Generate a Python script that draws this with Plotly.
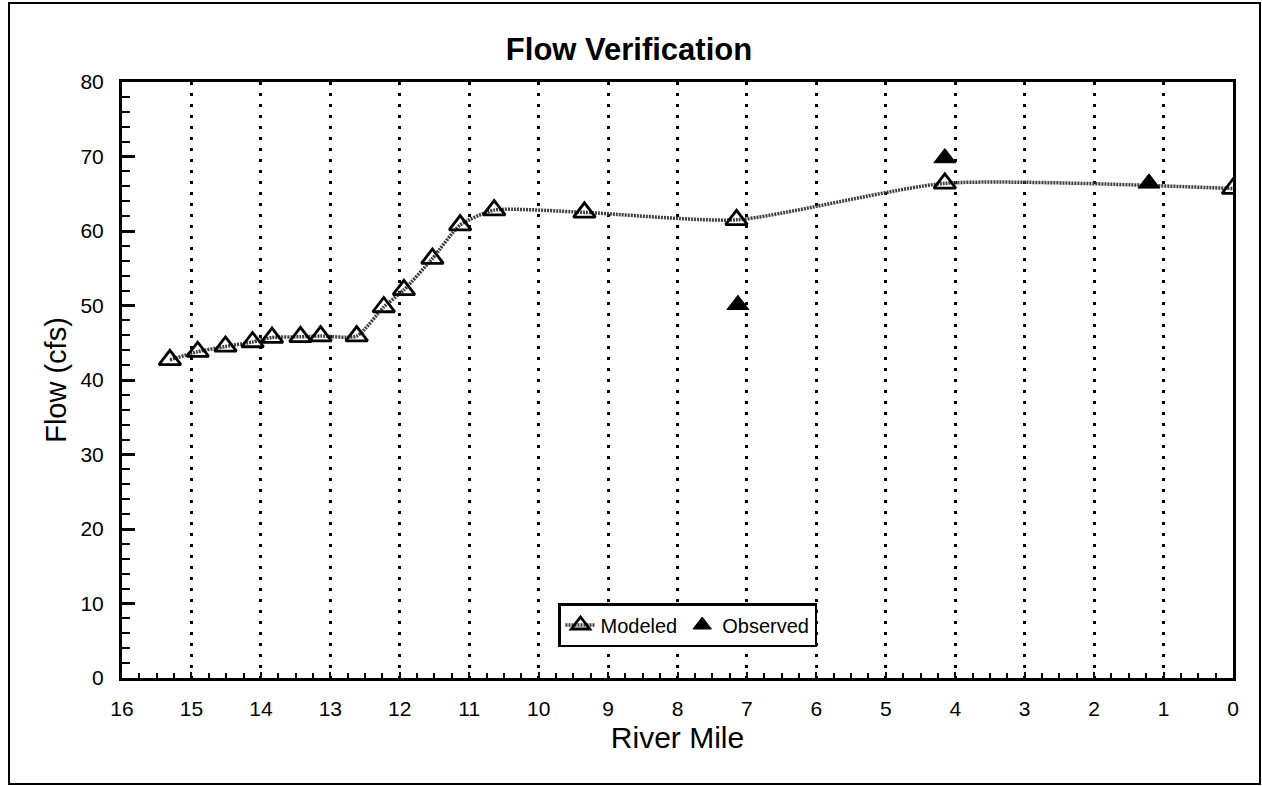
import plotly.graph_objects as go

# River mile / flow (cfs) series
modeled_mile = [15.31, 14.91, 14.51, 14.12, 13.84, 13.43, 13.14, 12.62, 12.23,
                11.94, 11.53, 11.13, 10.64, 9.34, 7.15, 4.15, 0.0]
modeled_flow = [42.7, 43.8, 44.5, 45.1, 45.7, 45.8, 45.9, 45.9, 49.8,
                52.1, 56.3, 60.8, 62.8, 62.5, 61.5, 66.4, 65.7]
observed_mile = [7.13, 4.15, 1.21]
observed_flow = [50.1, 69.8, 66.4]

x_ticks = list(range(16, -1, -1))
y_ticks = list(range(0, 81, 10))

FONT = "Liberation Sans, Arial, Helvetica, sans-serif"

fig = go.Figure()

fig.add_trace(go.Scatter(
    x=modeled_mile, y=modeled_flow, name="Modeled", mode="lines+markers",
    line=dict(color="#404040", width=3.5, dash="2px,1px", shape="spline", smoothing=0.6),
    marker=dict(symbol="triangle-up-open", size=19, color="black",
                line=dict(color="black", width=2.8)),
))
fig.add_trace(go.Scatter(
    x=observed_mile, y=observed_flow, name="Observed", mode="markers",
    marker=dict(symbol="triangle-up", size=19, color="black",
                line=dict(color="black", width=1)),
))

L, R, T, B = 122, 29, 82, 108
W, H = 1262, 786
pw, ph = W - L - R, H - T - B

fig.update_layout(
    width=W, height=H,
    margin=dict(l=L, r=R, t=T, b=B),
    paper_bgcolor="white", plot_bgcolor="white",
    font=dict(family=FONT, color="black", size=21),
    title=dict(text="<b>Flow Verification</b>", x=629 / W, xanchor="center",
               y=1 - 49 / H, yanchor="middle", font=dict(size=31, family=FONT)),
    showlegend=True,
    legend=dict(orientation="h", x=(558 - L) / pw, y=(678 - 603) / ph,
                xanchor="left", yanchor="top", bgcolor="white",
                bordercolor="black", borderwidth=2.5,
                font=dict(size=20, family=FONT), itemwidth=30,
                tracegroupgap=0),
    shapes=[dict(type="rect", xref="paper", yref="paper",
                 x0=(9 - L) / pw, x1=(1260 - L) / pw,
                 y0=(H - B - 784) / ph, y1=(H - B - 3) / ph,
                 line=dict(color="black", width=2), layer="below")],
)

fig.update_xaxes(
    range=[16, 0], tickvals=x_ticks, ticktext=[str(v) for v in x_ticks],
    showline=True, linecolor="black", linewidth=3, mirror=True,
    ticks="inside", ticklen=6, tickwidth=2, tickcolor="black",
    showgrid=True, gridcolor="black", gridwidth=3, griddash="3px,8px",
    zeroline=False, ticklabelstandoff=10,
    minor=dict(dtick=0.25, ticks="inside", ticklen=5, tickwidth=2,
               tickcolor="black", showgrid=False),
    title=dict(text="River Mile", font=dict(size=30, family=FONT), standoff=8),
    tickfont=dict(size=21),
)
fig.update_yaxes(
    range=[0, 80], tickvals=y_ticks, ticktext=[str(v) for v in y_ticks],
    showline=True, linecolor="black", linewidth=3, mirror=True,
    ticks="inside", ticklen=13, tickwidth=2.5, tickcolor="black",
    showgrid=False, zeroline=False, ticklabelstandoff=11,
    minor=dict(dtick=2, ticks="inside", ticklen=8, tickwidth=2,
               tickcolor="black", showgrid=False),
    title=dict(text="Flow (cfs)", font=dict(size=29, family=FONT), standoff=6),
    tickfont=dict(size=21),
)

fig.write_html("out.html")
